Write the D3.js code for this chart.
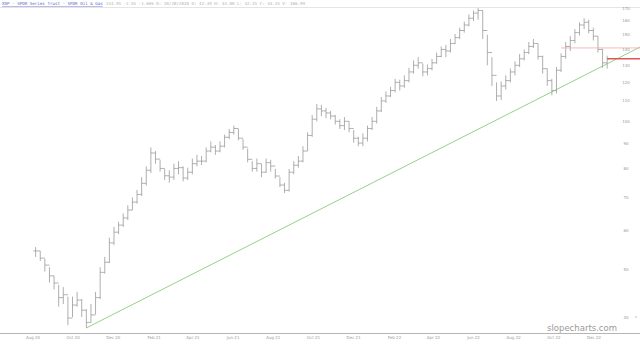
<!DOCTYPE html>
<html><head><meta charset="utf-8">
<script src="https://cdn.jsdelivr.net/npm/d3@7"></script>
<style>html,body{margin:0;padding:0;background:#fff;overflow:hidden}</style>
</head><body><svg id="c" width="640" height="344"></svg>
<script>
// weekly bars starting Mon Aug 3 2020
const startWeek = "2020-08-03";
const weekClose = [54.5,52.7,51,48.5,46.9,43.8,44.4,39.8,42.3,43.3,41.3,39,40.4,43.8,49.3,51.7,56.6,59.5,61.5,63.6,66,68.5,71,74.8,79.5,86.2,83.8,80.2,77.5,77,80.2,80.5,76.7,78.8,82,83,83,87,88.6,87,89,92.8,94.9,96.7,92.4,88.6,83.7,80.2,82,78.8,82.4,81.1,77.4,74.2,72.4,78.8,81.4,83,87,93.6,101,106,105,104,102.5,100,98,100,96.7,92.4,90.3,92.4,96.7,100,105,110,112.6,115.5,120,118,121,126,130,131.5,126,128,131.5,135.5,140,139,144,148,153,157,162,166,168,153,138,124,112.6,118,121,126,130,134,138,142,144,135.5,128,121,115.5,127,135.5,142,146,151.5,157,159,153,149,140,131.5,134];
const weekHigh = [55.5,54.5,52.5,50.5,48.5,46.5,46,44,44,45,43.5,41.5,42.5,45,50.5,53,58,61,62.5,65,67.5,70,72.5,77,81,88.5,87,83.5,80,79.5,82,83,81,80.5,84,85.5,85,88.5,91,89.5,91,94,96.5,98,96.5,92,88,83,84,82,84,83.5,80,77,75,80,83,85,89,95,103,108.5,108,106.5,105,103,101,102,100,96,93,94.5,98,102,107,112,115,117.5,122,121.5,124,128.5,133,135,131,130.5,134,138,142,143,147,150.5,155,159.5,165,168,170,168,150,135,120,120.5,124,128,132.5,137,140,145,147,144,136,128,122,129,137.5,145,149,154,159,162,161,155,149,140.5,136];
const weekLow = [53,52,49.5,47,45.5,42,42.5,38.5,40,42,40,38,39,40.5,43.5,49,51.5,56,59,61,63,66,68,70.5,74,78.5,82,79,76,75,76,78,75.5,76,78,81,81.5,82.5,86.5,85.5,86.5,88.5,92,94,91.5,87.5,82.5,79,79,77,78.5,79,76.5,73.5,71.5,72,78,80.5,82.5,87,93,100,102.5,101.5,101,98.5,96.5,96,95,90.5,89,89,91,96,99,104.5,109,112,114.5,115.5,117,120,125,128,123.5,124,127,131,135,135,138,143.5,147,151.5,156,160,161,147,130,118,110,110.5,116,120,124,129,133,137,141,133.5,125,118,113,114,126,134,139,144,149.5,154,151,146,138,128.5,128];
const yTicks = [40,50,60,70,80,90,100,110,120,130,140,150,160,170];
const xTickDates = ["2020-08-01","2020-10-01","2020-12-01","2021-02-01","2021-04-01","2021-06-01","2021-08-01","2021-10-01","2021-12-01","2022-02-01","2022-04-01","2022-06-01","2022-08-01","2022-10-01","2022-12-01"];
// trend line anchors (date, price)
const trendDates = ["2020-10-21","2022-12-14"];
const trendPrices = [38.0,129.5];
const resistancePrice = 141;
const resistanceStart = "2022-10-12";
const lastPrice = 134;
const titleText = "XOP - SPDR Series Trust - SPDR Oil & Gas";
const infoText = "144.95  -2.55  -1.66% D: 10/28/2020 O:  42.49 H:  44.00 L:  42.15 C:  43.15 V:  166.99";

const svg = d3.select("#c");
const parse = d3.utcParse("%Y-%m-%d");
const x = d3.scaleUtc().domain([parse("2020-08-01"), parse("2022-12-01")]).range([33, 594]);
const y = d3.scaleLog().domain([40,170]).range([317, 8]);

// top line
svg.append("line").attr("x1",0).attr("x2",640).attr("y1",7.5).attr("y2",7.5).attr("stroke","#e4e4e4");
// header
const hdr = svg.append("text").attr("x",2).attr("y",5).attr("font-family","DejaVu Sans Mono, monospace").attr("font-size",4.2);
hdr.append("tspan").attr("fill","#5a63c8").attr("text-decoration","underline").text(titleText);
hdr.append("tspan").attr("fill","#b0b0b0").attr("dx",3).text(infoText);

// bars
const s0 = parse(startWeek);
const bars = svg.append("g").attr("stroke","#9a9a9a").attr("stroke-width",0.8);
weekClose.forEach((c,i)=>{
  const d0 = d3.utcDay.offset(s0, 7*i);
  const xc = x(d3.utcDay.offset(d0,2));
  const o = i===0 ? weekClose[0] : weekClose[i-1];
  bars.append("line").attr("x1",xc).attr("x2",xc).attr("y1",y(weekHigh[i])).attr("y2",y(weekLow[i]));
  bars.append("line").attr("x1",xc-2.3).attr("x2",xc).attr("y1",y(o)).attr("y2",y(o));
  bars.append("line").attr("x1",xc).attr("x2",xc+2.3).attr("y1",y(c)).attr("y2",y(c));
});

// trend line (extended to right edge)
const p1=[x(parse(trendDates[0])), y(trendPrices[0])], p2=[x(parse(trendDates[1])), y(trendPrices[1])];
const slope=(p2[1]-p1[1])/(p2[0]-p1[0]);
svg.append("line").attr("x1",p1[0]).attr("y1",p1[1]).attr("x2",640).attr("y2",p1[1]+slope*(640-p1[0])).attr("stroke","#7cc46c").attr("stroke-width",0.8);

// resistance line
svg.append("line").attr("x1",x(parse(resistanceStart))).attr("x2",640).attr("y1",y(resistancePrice)).attr("y2",y(resistancePrice)).attr("stroke","#f2aaaa").attr("stroke-width",0.8);
// last price line
const lastX = x(d3.utcDay.offset(s0, 7*(weekClose.length-1)+2));
svg.append("line").attr("x1",lastX).attr("x2",640).attr("y1",y(lastPrice)).attr("y2",y(lastPrice)).attr("stroke","#e05656").attr("stroke-width",1.6);

// y axis labels
svg.append("g").selectAll("text").data(yTicks).join("text")
  .attr("x",626).attr("y",d=>y(d)+1.5).attr("text-anchor","middle")
  .attr("font-family","DejaVu Sans, sans-serif").attr("font-size",4).attr("fill","#999").text(d=>d);

// x axis
svg.append("line").attr("x1",0).attr("x2",640).attr("y1",333.5).attr("y2",333.5).attr("stroke","#b5b5b5");
const fmt = d3.utcFormat("%b %y");
svg.append("g").selectAll("text").data(xTickDates.map(parse)).join("text")
  .attr("x",d=>x(d)).attr("y",339).attr("text-anchor","middle")
  .attr("font-family","DejaVu Sans, sans-serif").attr("font-size",4).attr("fill","#999").text(d=>fmt(d));

// watermark
svg.append("text").attr("x",582).attr("y",331).attr("text-anchor","middle")
  .attr("font-family","DejaVu Sans, sans-serif").attr("font-size",8.5).attr("fill","#9a9a9a").text("slopecharts.com");
svg.append("text").attr("x",636).attr("y",318).attr("text-anchor","middle")
  .attr("font-family","DejaVu Sans, sans-serif").attr("font-size",4).attr("fill","#999").text("»");
</script></body></html>
